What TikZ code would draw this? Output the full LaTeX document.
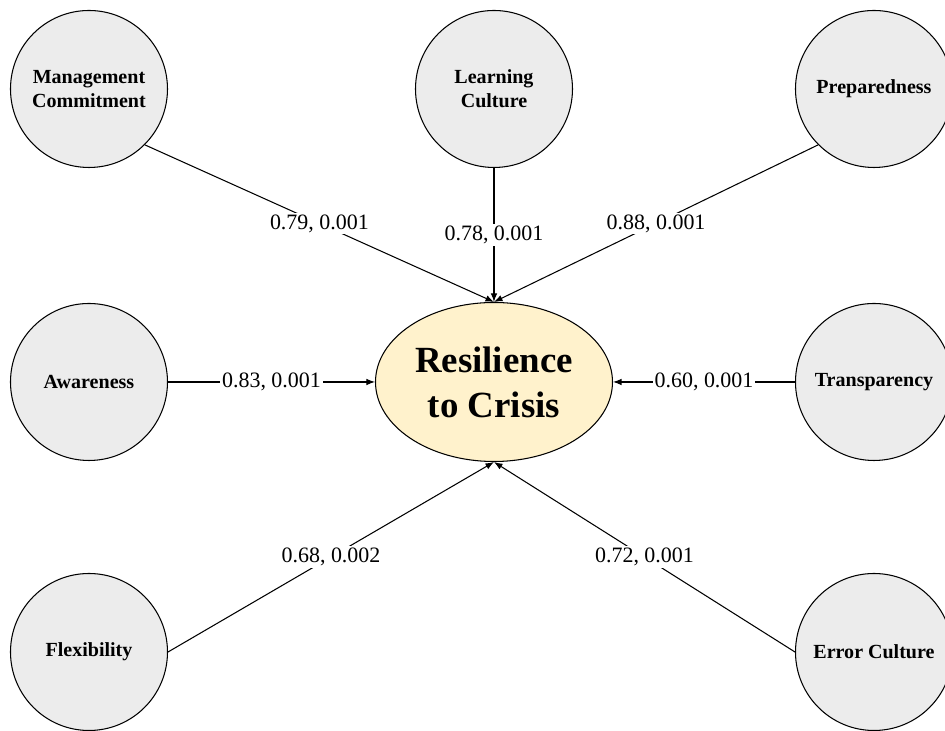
\documentclass[tikz,border=0pt]{standalone}
\usepackage{fontspec}
\setmainfont{Liberation Serif}
\usepackage{xcolor}
\usepackage{tikz}
\usetikzlibrary{shapes.geometric, arrows, arrows.meta, positioning}
\definecolor{factorgray}{RGB}{236,236,236}
\definecolor{outcomeyellow}{RGB}{255,242,204}
\tikzstyle{arrow} = [semithick,->,>={Latex[length=1.7mm,width=1.3mm]}]

\begin{document}
\begin{tikzpicture}[on grid,
factornode/.style={circle, draw=black, semithick, fill=factorgray, minimum size=3.14cm, inner sep=0pt, align=center, font=\fontsize{11.4}{13.7}\selectfont\bfseries},
outcomenode/.style={ellipse, draw=black, semithick, fill=outcomeyellow, minimum width=4.74cm, minimum height=3.18cm, inner sep=0pt, align=center, font=\fontsize{21}{25.6}\selectfont\bfseries},
weight/.style={fill=white, inner sep=1pt, font=\fontsize{12.5}{15}\selectfont},]
\useasboundingbox (-9.88,-6.98) rectangle (9.02,7.64);
\node[outcomenode] (resil) at (0,0) {Resilience\\to Crisis};
\node[factornode, above left=5.86cm and 8.1cm of resil] (mgmt) {Management\\Commitment};
\node[factornode, above=5.86cm of resil] (learning) {Learning\\Culture};
\node[factornode, above right=5.86cm and 7.6cm of resil] (prep) {Preparedness};
\node[factornode, left=8.1cm of resil] (aware) {Awareness};
\node[factornode, right=7.6cm of resil] (transp) {Transparency};
\node[factornode, below left=5.4cm and 8.1cm of resil] (flex) {Flexibility};
\node[factornode, below right=5.4cm and 7.6cm of resil] (error) {Error Culture};
\draw[arrow] (mgmt.south east) -- node[weight]{0.79, 0.001} (resil.north);
\draw[arrow] (learning.south) -- node[weight]{0.78, 0.001} (resil.north);
\draw[arrow] (prep.south west) -- node[weight]{0.88, 0.001} (resil.north);
\draw[arrow] (aware.east) -- node[weight]{0.83, 0.001} (resil.west);
\draw[arrow] (transp.west) -- node[weight]{0.60, 0.001} (resil.east);
\draw[arrow] (flex.east) -- node[weight]{0.68, 0.002} (resil.south);
\draw[arrow] (error.west) -- node[weight]{0.72, 0.001} (resil.south);
\end{tikzpicture}
\end{document}
